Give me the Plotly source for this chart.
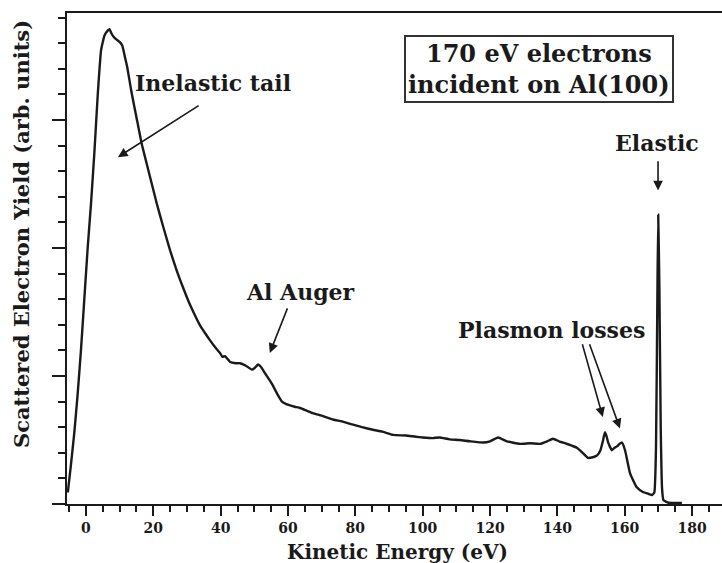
import plotly.graph_objects as go

# Electron energy-loss spectrum: 170 eV electrons scattered from Al(100)
energy_ev = [
    -5.4, -4.5, -3.5, -2.5, -1.5, -0.5, 0.5, 1.5, 2.5, 3.5, 4.5, 5.5, 6.5, 7.0, 7.5,
    8.2, 9.0, 10.0, 10.8, 11.5, 12.2, 13.5, 15.0, 16.5, 18.5, 21.0, 23.0, 25.0, 27.0,
    29.0, 31.0, 33.0, 34.0, 35.5, 36.8, 38.5, 39.8, 40.5, 41.3, 42.8, 44.5, 45.7,
    47.5, 49.3, 50.0, 51.1, 52.0, 53.2, 55.2, 57.0, 58.2, 59.5, 60.6, 62.0, 63.6,
    65.5, 67.4, 70.0, 73.4, 76.0, 79.3, 82.0, 85.2, 88.0, 91.2, 95.0, 98.0, 100.0,
    103.0, 105.0, 108.0, 111.0, 114.0, 118.0, 120.0, 122.4, 125.0, 128.9, 132.0,
    134.8, 137.0, 138.7, 140.5, 142.8, 145.8, 147.5, 149.1, 150.5, 151.8, 152.8,
    153.6, 154.1, 154.6, 155.1, 156.2, 157.0, 157.7, 158.5, 159.2, 160.1, 161.6,
    163.6, 165.4, 167.0, 168.1, 168.8, 169.3, 169.7, 169.95, 170.3, 170.7, 171.1,
    171.5, 173.0, 175.0, 177.0,
]
yield_arb = [
    0.09, 0.30, 0.55, 0.85, 1.20, 1.60, 2.00, 2.35, 2.75, 3.20, 3.55, 3.66, 3.70, 3.71, 3.68,
    3.65, 3.63, 3.61, 3.58, 3.50, 3.42, 3.22, 3.02, 2.82, 2.61, 2.35, 2.16, 1.98, 1.82,
    1.68, 1.55, 1.44, 1.39, 1.33, 1.28, 1.22, 1.18, 1.15, 1.155, 1.11, 1.10, 1.10,
    1.08, 1.05, 1.06, 1.09, 1.07, 1.02, 0.94, 0.85, 0.80, 0.78, 0.77, 0.76, 0.75,
    0.73, 0.71, 0.69, 0.66, 0.645, 0.62, 0.60, 0.58, 0.565, 0.54, 0.535, 0.525, 0.52,
    0.515, 0.52, 0.505, 0.50, 0.49, 0.48, 0.49, 0.52, 0.49, 0.47, 0.475,
    0.47, 0.49, 0.51, 0.49, 0.47, 0.44, 0.40, 0.36, 0.365, 0.38, 0.42,
    0.50, 0.56, 0.53, 0.48, 0.42, 0.44, 0.45, 0.47, 0.48, 0.42, 0.24,
    0.13, 0.094, 0.08, 0.07, 0.09, 0.45, 1.6, 2.26, 1.7, 0.6, 0.12,
    0.03, 0.01, 0.008, 0.008,
]

x_major_ticks = [0, 20, 40, 60, 80, 100, 120, 140, 160, 180]
x_tick_text = ["0", "20", "40", "60", "80", "100", "120", "140", "160", "180"]
y_major_ticks = [0, 1, 2, 3]

SERIF = "DejaVu Serif"
INK = "#1a1a1a"

fig = go.Figure()
fig.add_trace(go.Scatter(
    x=energy_ev, y=yield_arb, mode="lines",
    line=dict(color=INK, width=2.4, shape="spline", smoothing=0.4),
    hoverinfo="skip", showlegend=False,
))

fig.update_layout(
    width=722, height=563,
    margin=dict(l=67, r=0, t=13, b=59),
    paper_bgcolor="white", plot_bgcolor="white",
    font=dict(family=SERIF, color=INK),
    showlegend=False,
)

fig.update_xaxes(
    range=[-5.64, 188.9], showgrid=False, zeroline=False,
    showline=True, linecolor=INK, linewidth=2, mirror=True,
    ticks="outside", ticklen=10, tickwidth=2, tickcolor=INK,
    tickvals=x_major_ticks, ticktext=x_tick_text,
    tickfont=dict(family=SERIF, size=14, color=INK, weight="bold"),
    ticklabelstandoff=0,
    minor=dict(dtick=5, tick0=0, ticks="outside", ticklen=6, tickwidth=2, tickcolor=INK),
)
fig.update_yaxes(
    range=[0, 3.836], showgrid=False, zeroline=False,
    showline=True, linecolor=INK, linewidth=2,
    ticks="outside", ticklen=13, tickwidth=2, tickcolor=INK,
    tickvals=y_major_ticks, showticklabels=False,
    minor=dict(dtick=0.2, tick0=0, ticks="outside", ticklen=7, tickwidth=2, tickcolor=INK),
)

# Axis titles
fig.add_annotation(
    text="Kinetic Energy (eV)", xref="paper", yref="paper", x=0.505, y=-0.0975,
    xanchor="center", yanchor="middle", showarrow=False,
    font=dict(family=SERIF, size=20, color=INK, weight="bold"),
)
fig.add_annotation(
    text="Scattered Electron Yield (arb. units)", xref="paper", yref="paper",
    x=-0.0687, y=0.55, xanchor="center", yanchor="middle", textangle=-90,
    showarrow=False, font=dict(family=SERIF, size=21, color=INK, weight="bold"),
)

# Boxed heading
fig.add_annotation(
    text="170 eV electrons<br>incident on Al(100)", xref="paper", yref="paper",
    x=0.72, y=0.885, xanchor="center", yanchor="middle", showarrow=False,
    align="center", bordercolor="#333333", borderwidth=2, borderpad=2,
    bgcolor="white", font=dict(family=SERIF, size=24, color=INK, weight="bold"),
)

label_font = dict(family=SERIF, size=22, color=INK, weight="bold")

# Feature labels
for text, ex, ey in [
    ("Inelastic tail", 37.7, 3.29),
    ("Al Auger", 63.6, 1.66),
    ("Plasmon losses", 138.4, 1.36),
    ("Elastic", 169.6, 2.82),
]:
    fig.add_annotation(text=text, x=ex, y=ey, xref="x", yref="y", showarrow=False,
                       xanchor="center", yanchor="middle", font=label_font)

# Arrows pointing at spectral features (tip, tail)
for (tx, ty), (sx, sy) in [
    ((9.5, 2.71), (33.9, 3.12)),
    ((54.6, 1.18), (60.0, 1.54)),
    ((153.5, 0.68), (147.3, 1.26)),
    ((158.6, 0.59), (149.4, 1.26)),
    ((169.9, 2.45), (169.9, 2.69)),
]:
    fig.add_annotation(
        x=tx, y=ty, ax=sx, ay=sy, xref="x", yref="y", axref="x", ayref="y",
        text="", showarrow=True, arrowhead=2, arrowsize=1.2, arrowwidth=1.6,
        arrowcolor=INK,
    )

fig.write_html("out.html")
